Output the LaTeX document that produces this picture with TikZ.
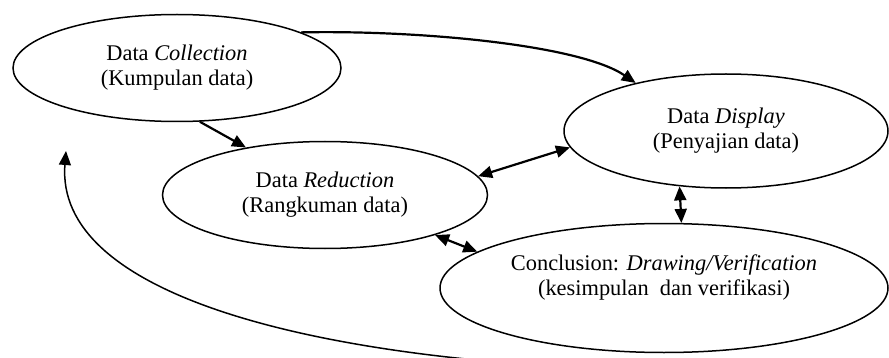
\documentclass[tikz,border=0pt]{standalone}
\usepackage{fontspec}
\setmainfont{Liberation Serif}
\usetikzlibrary{arrows.meta,shapes.geometric}

\begin{document}
\begin{tikzpicture}[x=0.5pt,y=-0.5pt,
  font=\fontsize{11.2}{12.5}\selectfont,
  stage/.style={draw,ellipse,line width=0.75pt,align=center,inner sep=0pt},
  flow/.style={-{Triangle[length=7pt,width=6pt]},line width=1.1pt},
  twoway/.style={{Triangle[length=7pt,width=6pt]}-{Triangle[length=7pt,width=6pt]},line width=1.1pt},
  backflow/.style={-{Triangle[length=7pt,width=6pt]},line width=0.75pt}]
  \useasboundingbox (0,0) rectangle (889,358);
  % stages
  \node[stage,minimum width=164pt,minimum height=53.5pt] (coll) at (177,68)
       {Data \textit{Collection}\\(Kumpulan data)};
  \node[stage,minimum width=162pt,minimum height=57pt] (disp) at (726,131)
       {Data \textit{Display}\\(Penyajian data)};
  \node[stage,minimum width=162.5pt,minimum height=53.5pt] (red) at (325,195)
       {Data \textit{Reduction}\\(Rangkuman data)};
  \node[stage,minimum width=224pt,minimum height=64.5pt] (conc) at (664,288) {};
  \node[align=center] (conctext) at ([yshift=5.5pt]conc.center)
       {Conclusion: \textit{Drawing/Verification}\\(kesimpulan\ \ dan verifikasi)};
  % arrows
  \draw[flow] (coll.293) -- (red.149);
  \draw[flow] (coll.16) .. controls (420,30) and (580,45) .. (disp.152);
  \draw[twoway] (red.7) -- (disp.186);
  \draw[twoway] (disp.230) -- (conc.75);
  \draw[twoway] (red.340) -- (conc.169);
  % back to collection
  \coordinate (loopstart) at (590,368);
  \coordinate (looptip) at (66,151);
  \draw[backflow] (loopstart) .. controls (300,355) and (55,292) .. (looptip);
\end{tikzpicture}
\end{document}
